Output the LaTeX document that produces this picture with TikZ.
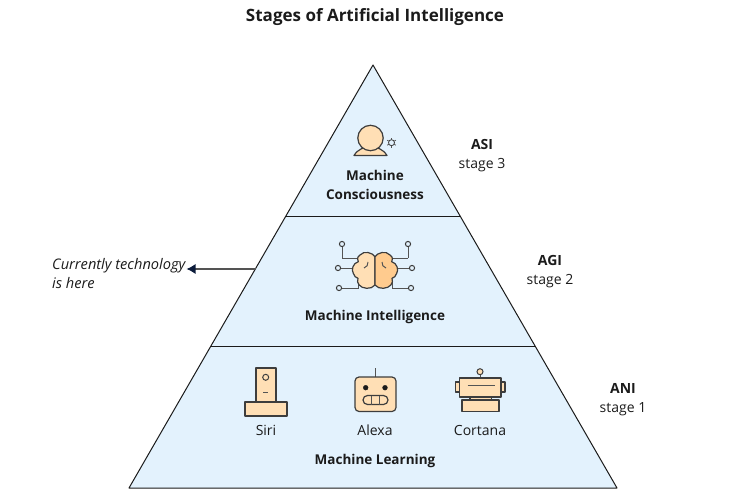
\documentclass[tikz,border=0pt]{standalone}
\usepackage{fontspec}
\setmainfont{Open Sans}
\usetikzlibrary{arrows.meta}
\definecolor{skin}{HTML}{FFDFB5}
\definecolor{skindark}{HTML}{FFCB8E}
\definecolor{pale}{HTML}{E3F2FD}
\definecolor{ink}{HTML}{1B1B1B}
\definecolor{navy}{HTML}{0B1B3B}
\begin{document}
\begin{tikzpicture}
\tikzset{tier/.style={draw=ink,line width=1pt,line join=round,fill=pale}}
\tikzset{icon/.style={draw=ink!85,line width=1.2pt,line join=round,fill=skin}}
\tikzset{wire/.style={draw=ink!75,line width=1pt}}
\tikzset{pin/.style={draw=ink!85,line width=1pt,fill=pale}}
\tikzset{label/.style={font=\fontsize{14}{19}\selectfont,align=center,text=ink}}
\tikzset{caption/.style={font=\fontsize{13.5}{19}\bfseries\selectfont,align=center,text=ink}}

\begin{scope}[x={(1pt,0pt)},y={(0pt,-1pt)}]
\useasboundingbox (0,0) rectangle (750,500);

\node[font=\fontsize{17}{22}\bfseries\selectfont,text=ink] (title) at (375,17) {Stages of Artificial Intelligence};

% pyramid
\coordinate (apex) at (373,65);
\coordinate (baseleft) at (129,488);
\coordinate (baseright) at (617,488);
\coordinate (upleft) at (286,216);
\coordinate (upright) at (460.5,216);
\coordinate (lowleft) at (211,346);
\coordinate (lowright) at (535,346);
\path[tier] (apex) -- (baseright) -- (baseleft) -- cycle;
\path[tier,fill=none] (upleft) -- (upright);
\path[tier,fill=none] (lowleft) -- (lowright);

% top tier
\path[icon] (354,155.5) .. controls (358,149) and (364,147) .. (370.5,147) .. controls (377,147) and (383,149) .. (387,155.5) -- cycle;
\path[icon] (370.5,138) circle (12.7);
\path[pin,line width=0.8pt] (391.5,142.7) circle (3);
\foreach \a in {0,60,...,300} {
  \path[wire,line width=0.8pt] (391.5,142.7) ++(\a+30:3) -- ++(\a+30:2);
}
\node[caption] (consciousness) at (375,185) {Machine\\Consciousness};

% middle tier
\foreach \x/\y/\u/\v in {342/244/342/258,408/244/408/258} {
  \path[wire] (\x,\y) -- (\u,\v);
}
\path[wire] (342,258) -- (360,258);
\path[wire] (408,258) -- (390,258);
\path[wire] (338,268) -- (354,268);
\path[wire] (412,268) -- (397,268);
\path[wire] (339,288) -- (358,288) -- (358,280);
\path[wire] (411,288) -- (392,288) -- (392,280);
\foreach \x/\y in {342/244,408/244,338/268,412/268,339/288,411/288} {
  \path[pin] (\x,\y) circle (2.6);
}
\path[icon] (375,256.7) .. controls (373,253) and (364,250) .. (360,255) .. controls (357,257) and (357,260) .. (358.3,261.7) .. controls (353,263) and (351,270) .. (353.3,273.3) .. controls (354,276) and (356,278) .. (358,278.3) .. controls (356,283) and (360,288) .. (366.7,288.3) .. controls (370,288.5) and (373,287.5) .. (375,285) -- cycle;
\path[icon,fill=skindark] (375,256.7) .. controls (377,253) and (386,250) .. (390,255) .. controls (393,257) and (393,260) .. (391.7,261.7) .. controls (397,263) and (399,270) .. (396.7,273.3) .. controls (396,276) and (394,278) .. (392,278.3) .. controls (394,283) and (390,288) .. (383.3,288.3) .. controls (380,288.5) and (377,287.5) .. (375,285) -- cycle;
\path[wire] (368,262) .. controls (368,265) and (367,267) .. (364,268);
\path[wire] (382,262) .. controls (382,265) and (383,267) .. (386,268);
\node[caption] (intelligence) at (375,317) {Machine Intelligence};

% bottom tier
\path[icon] (256,368) rectangle (276,402);
\path[pin,fill=none] (265.7,377.3) circle (3);
\path[wire] (263.3,392.7) -- (268.3,392.7);
\path[icon] (245,402) rectangle (287,416);
\node[label] (siri) at (266,430) {Siri};

\path[wire] (375,368) -- (375,377);
\path[icon,rounded corners=4pt] (355,377) rectangle (396,411.5);
\path[draw=ink,fill=ink] (365.7,387.7) circle (2.4) (385,387.7) circle (2.4);
\path[icon,rounded corners=4.5pt,fill=none] (363,395.5) rectangle (388,404.5);
\path[wire] (371.5,395.5) -- (371.5,404.5) (379.5,395.5) -- (379.5,404.5);
\node[label] (alexa) at (375,430) {Alexa};

\path[wire] (480,375) -- (480,378);
\path[pin,fill=skin] (480,371.7) circle (3);
\path[icon] (455.7,382) rectangle (459.3,392);
\path[icon] (501,382) rectangle (505,392);
\path[icon] (459.3,378) rectangle (501,397);
\path[wire] (467.7,385.7) -- (495,385.7);
\path[icon] (470,397) rectangle (491.7,400);
\path[icon] (462,400) rectangle (499,411.7);
\node[label] (cortana) at (480,430.5) {Cortana};
\node[caption] (learning) at (375,461) {Machine Learning};

% stage labels
\node[label] (asi) at (482,155.5) {\textbf{ASI}\\stage 3};
\node[label] (agi) at (550,271.5) {\textbf{AGI}\\stage 2};
\node[label] (ani) at (623,399.5) {\textbf{ANI}\\stage 1};

% note with arrow
\node[label,align=left,anchor=west,font=\fontsize{14.6}{19}\itshape\selectfont,inner sep=0pt] (note) at (52,273.5) {Currently technology\\is here};
\coordinate (edge) at (256,269);
\draw[wire,line width=1.1pt,draw=ink!75,-{Latex[length=9pt,width=10pt,color=navy]}] (edge) -- (186.5,269);
\end{scope}
\end{tikzpicture}
\end{document}
